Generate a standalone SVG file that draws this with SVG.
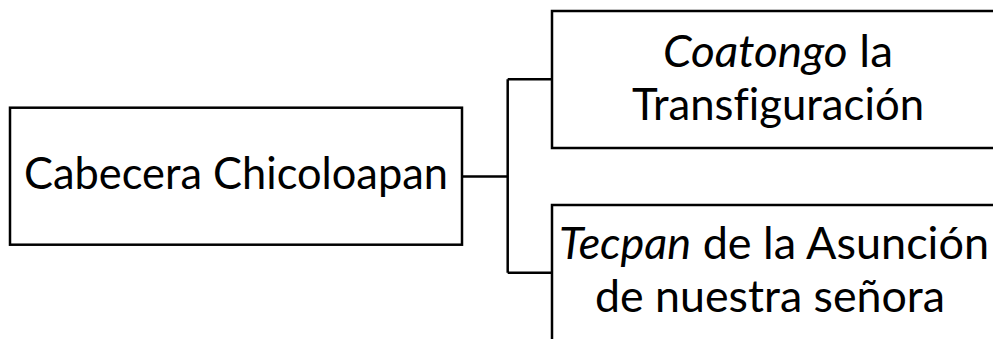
<svg xmlns="http://www.w3.org/2000/svg" width="993" height="339" viewBox="0 0 993 339">
<style>
.box{fill:#fff;stroke:#000;stroke-width:2.5}
.conn{fill:none;stroke:#000;stroke-width:2.5}
.t{font-family:Lato,"Open Sans","Liberation Sans",sans-serif;font-size:44px;fill:#000;text-anchor:middle;font-variant-ligatures:none}
.i{font-style:italic}
</style>
<rect x="0" y="0" width="993" height="339" fill="#fff"/>
<g id="connectors">
<path class="conn" d="M462,176.5 H507.7 M507.7,79.3 V272.7 M507.7,79.3 H552 M507.7,272.7 H552"/>
</g>
<g id="node-cabecera">
<rect class="box" x="10" y="107.7" width="452" height="137"/>
<text class="t" x="236" y="189" textLength="424" lengthAdjust="spacingAndGlyphs">Cabecera Chicoloapan</text>
</g>
<g id="node-coatongo">
<rect class="box" x="552" y="11" width="460" height="137"/>
<text class="t" x="778" y="66.5" textLength="230" lengthAdjust="spacingAndGlyphs"><tspan class="i">Coatongo</tspan> la</text>
<text class="t" x="778" y="119.5" textLength="292" lengthAdjust="spacingAndGlyphs">Transfiguración</text>
</g>
<g id="node-tecpan">
<rect class="box" x="552" y="205" width="460" height="160"/>
<text class="t" x="774" y="259" textLength="430" lengthAdjust="spacingAndGlyphs"><tspan class="i">Tecpan</tspan> de la Asunción</text>
<text class="t" x="770" y="311.5" textLength="350" lengthAdjust="spacingAndGlyphs">de nuestra señora</text>
</g>
</svg>
